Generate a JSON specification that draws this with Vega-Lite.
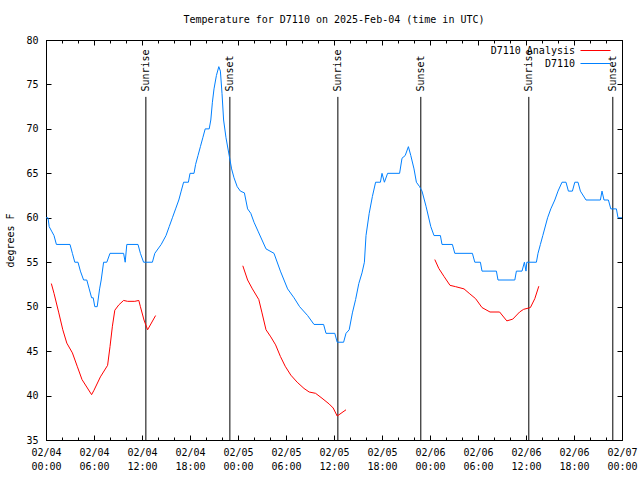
{
  "$schema": "https://vega.github.io/schema/vega-lite/v6.json",
  "autosize": {"type": "none"},
  "padding": {"left": 46, "top": 40, "right": 18, "bottom": 40},
  "width": 576,
  "height": 400,
  "background": "white",
  "title": {"text": "Temperature for D7110 on 2025-Feb-04 (time in UTC)", "font": "DejaVu Sans Mono", "fontSize": 10, "fontWeight": "normal", "color": "black", "anchor": "middle", "frame": "group", "offset": 10},
  "config": {
    "view": {"stroke": "black", "strokeWidth": 1},
    "axis": {"domainColor": "black", "tickColor": "black", "labelColor": "black", "titleColor": "black", "labelFont": "DejaVu Sans Mono", "labelFontSize": 10, "titleFont": "DejaVu Sans Mono", "titleFontSize": 10, "titleFontWeight": "normal", "grid": false, "labelFlush": false, "labelOverlap": false},
    "legend": {"labelFont": "DejaVu Sans Mono", "labelFontSize": 10, "labelColor": "black", "symbolType": "M-2.5,0H2.5", "symbolSize": 144, "symbolStrokeWidth": 1, "labelAlign": "right", "labelOffset": -27, "rowPadding": 1, "padding": 0}
  },
  "datasets": {
    "temps": [
      {"series": "D7110", "run": "obs", "t": "2025-02-04T00:00:00Z", "temp": 60},
      {"series": "D7110", "run": "obs", "t": "2025-02-04T00:15:00Z", "temp": 60},
      {"series": "D7110", "run": "obs", "t": "2025-02-04T00:24:00Z", "temp": 59},
      {"series": "D7110", "run": "obs", "t": "2025-02-04T00:42:00Z", "temp": 58.5},
      {"series": "D7110", "run": "obs", "t": "2025-02-04T01:00:00Z", "temp": 58},
      {"series": "D7110", "run": "obs", "t": "2025-02-04T01:18:00Z", "temp": 57},
      {"series": "D7110", "run": "obs", "t": "2025-02-04T03:00:00Z", "temp": 57},
      {"series": "D7110", "run": "obs", "t": "2025-02-04T03:18:00Z", "temp": 56},
      {"series": "D7110", "run": "obs", "t": "2025-02-04T03:36:00Z", "temp": 55},
      {"series": "D7110", "run": "obs", "t": "2025-02-04T04:00:00Z", "temp": 55},
      {"series": "D7110", "run": "obs", "t": "2025-02-04T04:18:00Z", "temp": 54},
      {"series": "D7110", "run": "obs", "t": "2025-02-04T04:42:00Z", "temp": 53},
      {"series": "D7110", "run": "obs", "t": "2025-02-04T05:06:00Z", "temp": 53},
      {"series": "D7110", "run": "obs", "t": "2025-02-04T05:24:00Z", "temp": 52},
      {"series": "D7110", "run": "obs", "t": "2025-02-04T05:42:00Z", "temp": 51},
      {"series": "D7110", "run": "obs", "t": "2025-02-04T05:54:00Z", "temp": 51},
      {"series": "D7110", "run": "obs", "t": "2025-02-04T06:06:00Z", "temp": 50},
      {"series": "D7110", "run": "obs", "t": "2025-02-04T06:24:00Z", "temp": 50},
      {"series": "D7110", "run": "obs", "t": "2025-02-04T06:42:00Z", "temp": 52},
      {"series": "D7110", "run": "obs", "t": "2025-02-04T06:54:00Z", "temp": 53},
      {"series": "D7110", "run": "obs", "t": "2025-02-04T07:12:00Z", "temp": 55},
      {"series": "D7110", "run": "obs", "t": "2025-02-04T07:36:00Z", "temp": 55},
      {"series": "D7110", "run": "obs", "t": "2025-02-04T08:00:00Z", "temp": 56},
      {"series": "D7110", "run": "obs", "t": "2025-02-04T09:42:00Z", "temp": 56},
      {"series": "D7110", "run": "obs", "t": "2025-02-04T09:54:00Z", "temp": 55},
      {"series": "D7110", "run": "obs", "t": "2025-02-04T10:06:00Z", "temp": 57},
      {"series": "D7110", "run": "obs", "t": "2025-02-04T11:30:00Z", "temp": 57},
      {"series": "D7110", "run": "obs", "t": "2025-02-04T11:48:00Z", "temp": 56},
      {"series": "D7110", "run": "obs", "t": "2025-02-04T12:12:00Z", "temp": 55},
      {"series": "D7110", "run": "obs", "t": "2025-02-04T13:18:00Z", "temp": 55},
      {"series": "D7110", "run": "obs", "t": "2025-02-04T13:36:00Z", "temp": 56},
      {"series": "D7110", "run": "obs", "t": "2025-02-04T14:24:00Z", "temp": 57},
      {"series": "D7110", "run": "obs", "t": "2025-02-04T15:00:00Z", "temp": 58},
      {"series": "D7110", "run": "obs", "t": "2025-02-04T15:24:00Z", "temp": 59},
      {"series": "D7110", "run": "obs", "t": "2025-02-04T15:48:00Z", "temp": 60},
      {"series": "D7110", "run": "obs", "t": "2025-02-04T16:12:00Z", "temp": 61},
      {"series": "D7110", "run": "obs", "t": "2025-02-04T16:36:00Z", "temp": 62},
      {"series": "D7110", "run": "obs", "t": "2025-02-04T16:54:00Z", "temp": 63},
      {"series": "D7110", "run": "obs", "t": "2025-02-04T17:12:00Z", "temp": 64},
      {"series": "D7110", "run": "obs", "t": "2025-02-04T17:48:00Z", "temp": 64},
      {"series": "D7110", "run": "obs", "t": "2025-02-04T18:00:00Z", "temp": 65},
      {"series": "D7110", "run": "obs", "t": "2025-02-04T18:30:00Z", "temp": 65},
      {"series": "D7110", "run": "obs", "t": "2025-02-04T18:42:00Z", "temp": 66},
      {"series": "D7110", "run": "obs", "t": "2025-02-04T19:00:00Z", "temp": 67},
      {"series": "D7110", "run": "obs", "t": "2025-02-04T19:18:00Z", "temp": 68},
      {"series": "D7110", "run": "obs", "t": "2025-02-04T19:36:00Z", "temp": 69},
      {"series": "D7110", "run": "obs", "t": "2025-02-04T19:54:00Z", "temp": 70},
      {"series": "D7110", "run": "obs", "t": "2025-02-04T20:24:00Z", "temp": 70},
      {"series": "D7110", "run": "obs", "t": "2025-02-04T20:36:00Z", "temp": 71},
      {"series": "D7110", "run": "obs", "t": "2025-02-04T20:48:00Z", "temp": 73},
      {"series": "D7110", "run": "obs", "t": "2025-02-04T21:00:00Z", "temp": 74.5},
      {"series": "D7110", "run": "obs", "t": "2025-02-04T21:18:00Z", "temp": 76},
      {"series": "D7110", "run": "obs", "t": "2025-02-04T21:36:00Z", "temp": 77},
      {"series": "D7110", "run": "obs", "t": "2025-02-04T21:48:00Z", "temp": 76.5},
      {"series": "D7110", "run": "obs", "t": "2025-02-04T22:00:00Z", "temp": 74},
      {"series": "D7110", "run": "obs", "t": "2025-02-04T22:12:00Z", "temp": 71},
      {"series": "D7110", "run": "obs", "t": "2025-02-04T22:30:00Z", "temp": 69},
      {"series": "D7110", "run": "obs", "t": "2025-02-04T22:54:00Z", "temp": 67},
      {"series": "D7110", "run": "obs", "t": "2025-02-04T23:12:00Z", "temp": 65.5},
      {"series": "D7110", "run": "obs", "t": "2025-02-04T23:30:00Z", "temp": 64.5},
      {"series": "D7110", "run": "obs", "t": "2025-02-04T23:54:00Z", "temp": 63.5},
      {"series": "D7110", "run": "obs", "t": "2025-02-05T00:18:00Z", "temp": 63},
      {"series": "D7110", "run": "obs", "t": "2025-02-05T00:48:00Z", "temp": 62.8},
      {"series": "D7110", "run": "obs", "t": "2025-02-05T01:12:00Z", "temp": 61},
      {"series": "D7110", "run": "obs", "t": "2025-02-05T01:36:00Z", "temp": 60.5},
      {"series": "D7110", "run": "obs", "t": "2025-02-05T02:00:00Z", "temp": 59.5},
      {"series": "D7110", "run": "obs", "t": "2025-02-05T02:30:00Z", "temp": 58.5},
      {"series": "D7110", "run": "obs", "t": "2025-02-05T03:00:00Z", "temp": 57.5},
      {"series": "D7110", "run": "obs", "t": "2025-02-05T03:30:00Z", "temp": 56.5},
      {"series": "D7110", "run": "obs", "t": "2025-02-05T04:30:00Z", "temp": 56},
      {"series": "D7110", "run": "obs", "t": "2025-02-05T05:18:00Z", "temp": 54},
      {"series": "D7110", "run": "obs", "t": "2025-02-05T06:12:00Z", "temp": 52},
      {"series": "D7110", "run": "obs", "t": "2025-02-05T07:00:00Z", "temp": 51},
      {"series": "D7110", "run": "obs", "t": "2025-02-05T07:42:00Z", "temp": 50},
      {"series": "D7110", "run": "obs", "t": "2025-02-05T08:42:00Z", "temp": 49},
      {"series": "D7110", "run": "obs", "t": "2025-02-05T09:30:00Z", "temp": 48},
      {"series": "D7110", "run": "obs", "t": "2025-02-05T10:42:00Z", "temp": 48},
      {"series": "D7110", "run": "obs", "t": "2025-02-05T11:00:00Z", "temp": 47},
      {"series": "D7110", "run": "obs", "t": "2025-02-05T12:06:00Z", "temp": 47},
      {"series": "D7110", "run": "obs", "t": "2025-02-05T12:24:00Z", "temp": 46},
      {"series": "D7110", "run": "obs", "t": "2025-02-05T13:12:00Z", "temp": 46},
      {"series": "D7110", "run": "obs", "t": "2025-02-05T13:30:00Z", "temp": 47},
      {"series": "D7110", "run": "obs", "t": "2025-02-05T13:54:00Z", "temp": 47.4},
      {"series": "D7110", "run": "obs", "t": "2025-02-05T14:18:00Z", "temp": 49.3},
      {"series": "D7110", "run": "obs", "t": "2025-02-05T14:42:00Z", "temp": 50.8},
      {"series": "D7110", "run": "obs", "t": "2025-02-05T15:06:00Z", "temp": 52.6},
      {"series": "D7110", "run": "obs", "t": "2025-02-05T15:30:00Z", "temp": 53.8},
      {"series": "D7110", "run": "obs", "t": "2025-02-05T15:48:00Z", "temp": 55},
      {"series": "D7110", "run": "obs", "t": "2025-02-05T16:00:00Z", "temp": 58},
      {"series": "D7110", "run": "obs", "t": "2025-02-05T16:24:00Z", "temp": 60.5},
      {"series": "D7110", "run": "obs", "t": "2025-02-05T16:48:00Z", "temp": 62.4},
      {"series": "D7110", "run": "obs", "t": "2025-02-05T17:12:00Z", "temp": 64},
      {"series": "D7110", "run": "obs", "t": "2025-02-05T17:48:00Z", "temp": 64},
      {"series": "D7110", "run": "obs", "t": "2025-02-05T18:00:00Z", "temp": 65},
      {"series": "D7110", "run": "obs", "t": "2025-02-05T18:18:00Z", "temp": 64},
      {"series": "D7110", "run": "obs", "t": "2025-02-05T18:42:00Z", "temp": 65},
      {"series": "D7110", "run": "obs", "t": "2025-02-05T20:12:00Z", "temp": 65},
      {"series": "D7110", "run": "obs", "t": "2025-02-05T20:30:00Z", "temp": 66.7},
      {"series": "D7110", "run": "obs", "t": "2025-02-05T20:54:00Z", "temp": 67},
      {"series": "D7110", "run": "obs", "t": "2025-02-05T21:18:00Z", "temp": 68},
      {"series": "D7110", "run": "obs", "t": "2025-02-05T21:36:00Z", "temp": 67},
      {"series": "D7110", "run": "obs", "t": "2025-02-05T22:00:00Z", "temp": 65.5},
      {"series": "D7110", "run": "obs", "t": "2025-02-05T22:18:00Z", "temp": 64},
      {"series": "D7110", "run": "obs", "t": "2025-02-05T22:42:00Z", "temp": 63.5},
      {"series": "D7110", "run": "obs", "t": "2025-02-05T23:00:00Z", "temp": 63},
      {"series": "D7110", "run": "obs", "t": "2025-02-05T23:30:00Z", "temp": 61.3},
      {"series": "D7110", "run": "obs", "t": "2025-02-06T00:06:00Z", "temp": 59},
      {"series": "D7110", "run": "obs", "t": "2025-02-06T00:30:00Z", "temp": 58},
      {"series": "D7110", "run": "obs", "t": "2025-02-06T01:18:00Z", "temp": 58},
      {"series": "D7110", "run": "obs", "t": "2025-02-06T01:30:00Z", "temp": 57},
      {"series": "D7110", "run": "obs", "t": "2025-02-06T02:48:00Z", "temp": 57},
      {"series": "D7110", "run": "obs", "t": "2025-02-06T03:06:00Z", "temp": 56},
      {"series": "D7110", "run": "obs", "t": "2025-02-06T05:18:00Z", "temp": 56},
      {"series": "D7110", "run": "obs", "t": "2025-02-06T05:36:00Z", "temp": 55},
      {"series": "D7110", "run": "obs", "t": "2025-02-06T06:18:00Z", "temp": 55},
      {"series": "D7110", "run": "obs", "t": "2025-02-06T06:30:00Z", "temp": 54},
      {"series": "D7110", "run": "obs", "t": "2025-02-06T08:18:00Z", "temp": 54},
      {"series": "D7110", "run": "obs", "t": "2025-02-06T08:30:00Z", "temp": 53},
      {"series": "D7110", "run": "obs", "t": "2025-02-06T10:36:00Z", "temp": 53},
      {"series": "D7110", "run": "obs", "t": "2025-02-06T10:48:00Z", "temp": 54},
      {"series": "D7110", "run": "obs", "t": "2025-02-06T11:30:00Z", "temp": 54},
      {"series": "D7110", "run": "obs", "t": "2025-02-06T11:48:00Z", "temp": 55},
      {"series": "D7110", "run": "obs", "t": "2025-02-06T12:00:00Z", "temp": 54},
      {"series": "D7110", "run": "obs", "t": "2025-02-06T12:06:00Z", "temp": 55},
      {"series": "D7110", "run": "obs", "t": "2025-02-06T13:18:00Z", "temp": 55},
      {"series": "D7110", "run": "obs", "t": "2025-02-06T13:30:00Z", "temp": 56},
      {"series": "D7110", "run": "obs", "t": "2025-02-06T13:48:00Z", "temp": 57},
      {"series": "D7110", "run": "obs", "t": "2025-02-06T14:06:00Z", "temp": 58},
      {"series": "D7110", "run": "obs", "t": "2025-02-06T14:42:00Z", "temp": 60},
      {"series": "D7110", "run": "obs", "t": "2025-02-06T15:06:00Z", "temp": 61},
      {"series": "D7110", "run": "obs", "t": "2025-02-06T15:36:00Z", "temp": 62},
      {"series": "D7110", "run": "obs", "t": "2025-02-06T16:00:00Z", "temp": 63},
      {"series": "D7110", "run": "obs", "t": "2025-02-06T16:30:00Z", "temp": 64},
      {"series": "D7110", "run": "obs", "t": "2025-02-06T17:00:00Z", "temp": 64},
      {"series": "D7110", "run": "obs", "t": "2025-02-06T17:18:00Z", "temp": 63},
      {"series": "D7110", "run": "obs", "t": "2025-02-06T17:48:00Z", "temp": 63},
      {"series": "D7110", "run": "obs", "t": "2025-02-06T18:06:00Z", "temp": 64},
      {"series": "D7110", "run": "obs", "t": "2025-02-06T18:30:00Z", "temp": 64},
      {"series": "D7110", "run": "obs", "t": "2025-02-06T18:48:00Z", "temp": 63},
      {"series": "D7110", "run": "obs", "t": "2025-02-06T19:30:00Z", "temp": 62},
      {"series": "D7110", "run": "obs", "t": "2025-02-06T21:18:00Z", "temp": 62},
      {"series": "D7110", "run": "obs", "t": "2025-02-06T21:30:00Z", "temp": 63},
      {"series": "D7110", "run": "obs", "t": "2025-02-06T21:45:00Z", "temp": 62},
      {"series": "D7110", "run": "obs", "t": "2025-02-06T22:18:00Z", "temp": 62},
      {"series": "D7110", "run": "obs", "t": "2025-02-06T22:36:00Z", "temp": 61},
      {"series": "D7110", "run": "obs", "t": "2025-02-06T23:18:00Z", "temp": 61},
      {"series": "D7110", "run": "obs", "t": "2025-02-06T23:30:00Z", "temp": 60},
      {"series": "D7110", "run": "obs", "t": "2025-02-07T00:00:00Z", "temp": 60},
      {"series": "D7110 Analysis", "run": "a1", "t": "2025-02-04T00:40:00Z", "temp": 52.6},
      {"series": "D7110 Analysis", "run": "a1", "t": "2025-02-04T01:00:00Z", "temp": 51.5},
      {"series": "D7110 Analysis", "run": "a1", "t": "2025-02-04T01:36:00Z", "temp": 49.3},
      {"series": "D7110 Analysis", "run": "a1", "t": "2025-02-04T02:06:00Z", "temp": 47.4},
      {"series": "D7110 Analysis", "run": "a1", "t": "2025-02-04T02:36:00Z", "temp": 45.9},
      {"series": "D7110 Analysis", "run": "a1", "t": "2025-02-04T03:18:00Z", "temp": 44.8},
      {"series": "D7110 Analysis", "run": "a1", "t": "2025-02-04T03:54:00Z", "temp": 43.3},
      {"series": "D7110 Analysis", "run": "a1", "t": "2025-02-04T04:30:00Z", "temp": 41.8},
      {"series": "D7110 Analysis", "run": "a1", "t": "2025-02-04T05:42:00Z", "temp": 40.1},
      {"series": "D7110 Analysis", "run": "a1", "t": "2025-02-04T06:00:00Z", "temp": 40.6},
      {"series": "D7110 Analysis", "run": "a1", "t": "2025-02-04T06:48:00Z", "temp": 42.1},
      {"series": "D7110 Analysis", "run": "a1", "t": "2025-02-04T07:42:00Z", "temp": 43.4},
      {"series": "D7110 Analysis", "run": "a1", "t": "2025-02-04T08:00:00Z", "temp": 45.5},
      {"series": "D7110 Analysis", "run": "a1", "t": "2025-02-04T08:18:00Z", "temp": 47.8},
      {"series": "D7110 Analysis", "run": "a1", "t": "2025-02-04T08:36:00Z", "temp": 49.6},
      {"series": "D7110 Analysis", "run": "a1", "t": "2025-02-04T09:06:00Z", "temp": 50.2},
      {"series": "D7110 Analysis", "run": "a1", "t": "2025-02-04T09:42:00Z", "temp": 50.7},
      {"series": "D7110 Analysis", "run": "a1", "t": "2025-02-04T10:12:00Z", "temp": 50.6},
      {"series": "D7110 Analysis", "run": "a1", "t": "2025-02-04T11:06:00Z", "temp": 50.6},
      {"series": "D7110 Analysis", "run": "a1", "t": "2025-02-04T11:36:00Z", "temp": 50.7},
      {"series": "D7110 Analysis", "run": "a1", "t": "2025-02-04T11:48:00Z", "temp": 50.0},
      {"series": "D7110 Analysis", "run": "a1", "t": "2025-02-04T12:15:00Z", "temp": 48.5},
      {"series": "D7110 Analysis", "run": "a1", "t": "2025-02-04T12:42:00Z", "temp": 47.4},
      {"series": "D7110 Analysis", "run": "a1", "t": "2025-02-04T13:42:00Z", "temp": 49.0},
      {"series": "D7110 Analysis", "run": "a2", "t": "2025-02-05T00:36:00Z", "temp": 54.6},
      {"series": "D7110 Analysis", "run": "a2", "t": "2025-02-05T01:12:00Z", "temp": 53},
      {"series": "D7110 Analysis", "run": "a2", "t": "2025-02-05T01:48:00Z", "temp": 52},
      {"series": "D7110 Analysis", "run": "a2", "t": "2025-02-05T02:36:00Z", "temp": 50.8},
      {"series": "D7110 Analysis", "run": "a2", "t": "2025-02-05T03:00:00Z", "temp": 49.3},
      {"series": "D7110 Analysis", "run": "a2", "t": "2025-02-05T03:30:00Z", "temp": 47.4},
      {"series": "D7110 Analysis", "run": "a2", "t": "2025-02-05T04:06:00Z", "temp": 46.6},
      {"series": "D7110 Analysis", "run": "a2", "t": "2025-02-05T04:42:00Z", "temp": 45.7},
      {"series": "D7110 Analysis", "run": "a2", "t": "2025-02-05T05:18:00Z", "temp": 44.4},
      {"series": "D7110 Analysis", "run": "a2", "t": "2025-02-05T05:54:00Z", "temp": 43.3},
      {"series": "D7110 Analysis", "run": "a2", "t": "2025-02-05T06:36:00Z", "temp": 42.3},
      {"series": "D7110 Analysis", "run": "a2", "t": "2025-02-05T07:24:00Z", "temp": 41.5},
      {"series": "D7110 Analysis", "run": "a2", "t": "2025-02-05T08:15:00Z", "temp": 40.8},
      {"series": "D7110 Analysis", "run": "a2", "t": "2025-02-05T08:54:00Z", "temp": 40.4},
      {"series": "D7110 Analysis", "run": "a2", "t": "2025-02-05T09:42:00Z", "temp": 40.25},
      {"series": "D7110 Analysis", "run": "a2", "t": "2025-02-05T10:30:00Z", "temp": 39.7},
      {"series": "D7110 Analysis", "run": "a2", "t": "2025-02-05T11:24:00Z", "temp": 39.05},
      {"series": "D7110 Analysis", "run": "a2", "t": "2025-02-05T11:54:00Z", "temp": 38.6},
      {"series": "D7110 Analysis", "run": "a2", "t": "2025-02-05T12:24:00Z", "temp": 37.7},
      {"series": "D7110 Analysis", "run": "a2", "t": "2025-02-05T13:30:00Z", "temp": 38.4},
      {"series": "D7110 Analysis", "run": "a3", "t": "2025-02-06T00:36:00Z", "temp": 55.3},
      {"series": "D7110 Analysis", "run": "a3", "t": "2025-02-06T01:06:00Z", "temp": 54.3},
      {"series": "D7110 Analysis", "run": "a3", "t": "2025-02-06T01:45:00Z", "temp": 53.4},
      {"series": "D7110 Analysis", "run": "a3", "t": "2025-02-06T02:30:00Z", "temp": 52.4},
      {"series": "D7110 Analysis", "run": "a3", "t": "2025-02-06T03:12:00Z", "temp": 52.25},
      {"series": "D7110 Analysis", "run": "a3", "t": "2025-02-06T04:15:00Z", "temp": 52},
      {"series": "D7110 Analysis", "run": "a3", "t": "2025-02-06T04:54:00Z", "temp": 51.5},
      {"series": "D7110 Analysis", "run": "a3", "t": "2025-02-06T05:42:00Z", "temp": 50.9},
      {"series": "D7110 Analysis", "run": "a3", "t": "2025-02-06T06:30:00Z", "temp": 49.9},
      {"series": "D7110 Analysis", "run": "a3", "t": "2025-02-06T07:30:00Z", "temp": 49.4},
      {"series": "D7110 Analysis", "run": "a3", "t": "2025-02-06T08:42:00Z", "temp": 49.4},
      {"series": "D7110 Analysis", "run": "a3", "t": "2025-02-06T09:36:00Z", "temp": 48.4},
      {"series": "D7110 Analysis", "run": "a3", "t": "2025-02-06T10:21:00Z", "temp": 48.6},
      {"series": "D7110 Analysis", "run": "a3", "t": "2025-02-06T11:12:00Z", "temp": 49.4},
      {"series": "D7110 Analysis", "run": "a3", "t": "2025-02-06T11:42:00Z", "temp": 49.7},
      {"series": "D7110 Analysis", "run": "a3", "t": "2025-02-06T12:33:00Z", "temp": 49.9},
      {"series": "D7110 Analysis", "run": "a3", "t": "2025-02-06T13:06:00Z", "temp": 50.9},
      {"series": "D7110 Analysis", "run": "a3", "t": "2025-02-06T13:36:00Z", "temp": 52.3}
    ],
    "sun": [
      {"event": "Sunrise", "t": "2025-02-04T12:29:00Z"},
      {"event": "Sunset", "t": "2025-02-04T22:59:00Z"},
      {"event": "Sunrise", "t": "2025-02-05T12:29:00Z"},
      {"event": "Sunset", "t": "2025-02-05T22:51:00Z"},
      {"event": "Sunrise", "t": "2025-02-06T12:21:00Z"},
      {"event": "Sunset", "t": "2025-02-06T22:51:00Z"}
    ]
  },
  "resolve": {"axis": {"x": "independent", "y": "independent"}},
  "layer": [
    {
      "data": {"name": "sun"},
      "mark": {"type": "rule", "color": "black", "strokeWidth": 1},
      "encoding": {
        "x": {"field": "t", "type": "temporal", "scale": {"type": "utc", "domain": [1738627200000, 1738886400000], "nice": false},
          "axis": {"orient": "bottom", "title": null, "labels": false, "domain": false, "tickSize": -3,
            "values": [1738627200000, 1738634400000, 1738641600000, 1738648800000, 1738656000000, 1738663200000, 1738670400000, 1738677600000, 1738684800000, 1738692000000, 1738699200000, 1738706400000, 1738713600000, 1738720800000, 1738728000000, 1738735200000, 1738742400000, 1738749600000, 1738756800000, 1738764000000, 1738771200000, 1738778400000, 1738785600000, 1738792800000, 1738800000000, 1738807200000, 1738814400000, 1738821600000, 1738828800000, 1738836000000, 1738843200000, 1738850400000, 1738857600000, 1738864800000, 1738872000000, 1738879200000, 1738886400000]}},
        "y": {"datum": 35, "type": "quantitative", "scale": {"domain": [35, 80], "nice": false, "zero": false}, "axis": null},
        "y2": {"datum": 73.6}
      }
    },
    {
      "data": {"name": "sun"},
      "mark": {"type": "text", "angle": 270, "align": "left", "baseline": "middle", "font": "DejaVu Sans Mono", "fontSize": 10, "color": "black"},
      "encoding": {
        "x": {"field": "t", "type": "temporal", "scale": {"type": "utc", "domain": [1738627200000, 1738886400000], "nice": false},
          "axis": {"orient": "top", "title": null, "labels": false, "domain": false, "tickSize": -3,
            "values": [1738627200000, 1738634400000, 1738641600000, 1738648800000, 1738656000000, 1738663200000, 1738670400000, 1738677600000, 1738684800000, 1738692000000, 1738699200000, 1738706400000, 1738713600000, 1738720800000, 1738728000000, 1738735200000, 1738742400000, 1738749600000, 1738756800000, 1738764000000, 1738771200000, 1738778400000, 1738785600000, 1738792800000, 1738800000000, 1738807200000, 1738814400000, 1738821600000, 1738828800000, 1738836000000, 1738843200000, 1738850400000, 1738857600000, 1738864800000, 1738872000000, 1738879200000, 1738886400000]}},
        "y": {"datum": 74.2, "type": "quantitative", "scale": {"domain": [35, 80], "nice": false, "zero": false}, "axis": null},
        "text": {"field": "event"}
      }
    },
    {
      "data": {"name": "temps"},
      "transform": [{"filter": "datum.series === 'D7110 Analysis'"}],
      "mark": {"type": "line", "strokeWidth": 1},
      "encoding": {
        "x": {"field": "t", "type": "temporal", "scale": {"type": "utc", "domain": [1738627200000, 1738886400000], "nice": false},
          "axis": {"orient": "bottom", "title": null, "tickSize": -5, "labelPadding": 12,
            "values": [1738627200000, 1738648800000, 1738670400000, 1738692000000, 1738713600000, 1738735200000, 1738756800000, 1738778400000, 1738800000000, 1738821600000, 1738843200000, 1738864800000, 1738886400000],
            "labelExpr": "[utcFormat(datum.value, '%m/%d'), utcFormat(datum.value, '%H:%M')]", "labelAlign": "center", "labelBaseline": "top", "labelLineHeight": 14}},
        "y": {"field": "temp", "type": "quantitative", "scale": {"domain": [35, 80], "nice": false, "zero": false},
          "axis": {"orient": "left", "title": "degrees F", "values": [35, 40, 45, 50, 55, 60, 65, 70, 75, 80], "tickSize": -5, "labelPadding": 13, "titlePadding": 10}},
        "color": {"field": "series", "type": "nominal", "scale": {"domain": ["D7110 Analysis", "D7110"], "range": ["#ff0000", "#0080ff"]},
          "legend": {"title": null, "orient": "none", "legendX": 543, "legendY": 4}},
        "detail": {"field": "run"}
      }
    },
    {
      "data": {"name": "temps"},
      "transform": [{"filter": "datum.series === 'D7110'"}],
      "mark": {"type": "line", "strokeWidth": 1},
      "encoding": {
        "x": {"field": "t", "type": "temporal", "scale": {"type": "utc", "domain": [1738627200000, 1738886400000], "nice": false},
          "axis": {"orient": "top", "title": null, "labels": false, "tickSize": -5,
            "values": [1738627200000, 1738648800000, 1738670400000, 1738692000000, 1738713600000, 1738735200000, 1738756800000, 1738778400000, 1738800000000, 1738821600000, 1738843200000, 1738864800000, 1738886400000]}},
        "y": {"field": "temp", "type": "quantitative", "scale": {"domain": [35, 80], "nice": false, "zero": false},
          "axis": {"orient": "right", "title": null, "labels": false, "values": [35, 40, 45, 50, 55, 60, 65, 70, 75, 80], "tickSize": -5}},
        "color": {"field": "series", "type": "nominal", "scale": {"domain": ["D7110 Analysis", "D7110"], "range": ["#ff0000", "#0080ff"]},
          "legend": {"title": null, "orient": "none", "legendX": 543, "legendY": 4}}
      }
    }
  ]
}
